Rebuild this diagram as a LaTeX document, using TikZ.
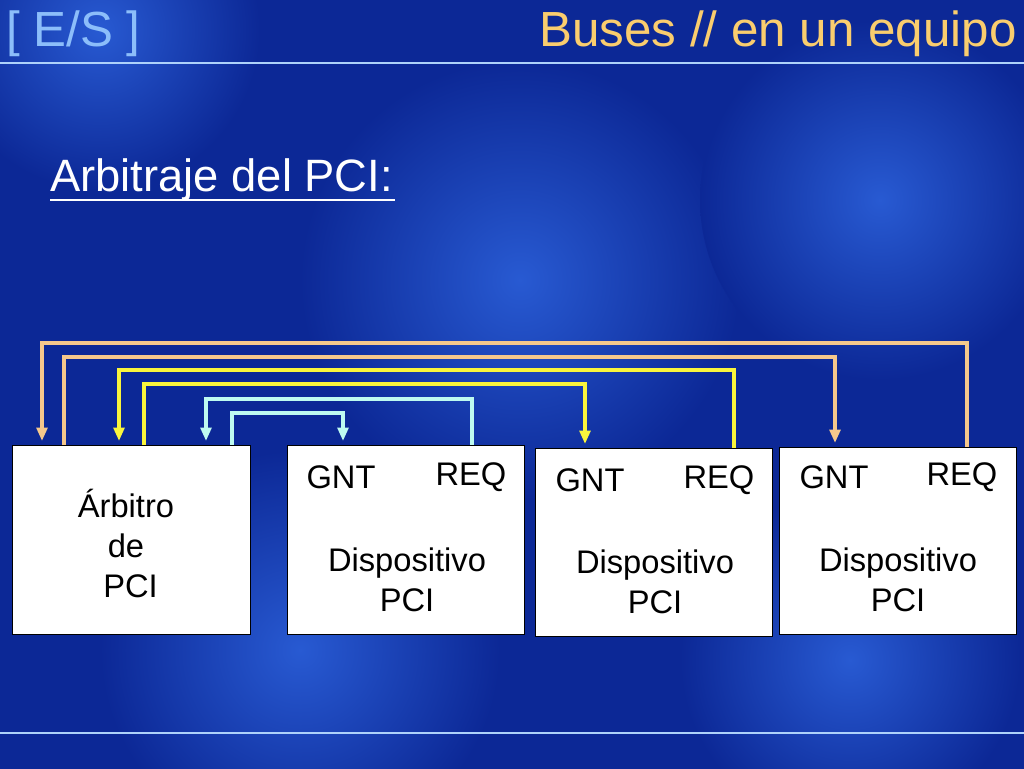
\documentclass[tikz,border=0pt]{standalone}
\usepackage{fontspec}
\setmainfont{Liberation Sans}
\usetikzlibrary{arrows.meta}
\definecolor{bgblue}{RGB}{12,40,150}
\definecolor{litblue}{RGB}{40,90,210}
\definecolor{ora}{RGB}{245,200,140}
\definecolor{yel}{RGB}{250,245,60}
\definecolor{cya}{RGB}{190,250,240}
\definecolor{titleor}{RGB}{250,205,110}
\definecolor{titlebl}{RGB}{140,190,250}
\begin{document}
\begin{tikzpicture}[x=0.75pt,y=-0.75pt,
  box/.style={draw=black,fill=white,line width=0.8pt,inner sep=0pt,anchor=north west},
  bus/.style={line width=2.6pt},
  tip/.style={-{Triangle[width=8pt,length=10pt]}},
  lbl/.style={font=\fontsize{24.5}{30}\selectfont,text=black,align=center}]
\useasboundingbox (0,0) rectangle (1024,768);
\fill[bgblue] (-2,-2) rectangle (1026,770);
\begin{scope}
\clip (0,0) rectangle (1024,768);
\shade[inner color=litblue,outer color=bgblue] (100,30) circle[radius=160];
\shade[inner color=litblue,outer color=bgblue] (520,280) circle[radius=220];
\shade[inner color=litblue,outer color=bgblue] (880,200) circle[radius=180];
\shade[inner color=litblue,outer color=bgblue] (300,650) circle[radius=200];
\shade[inner color=litblue,outer color=bgblue] (850,660) circle[radius=170];
\end{scope}
\draw[titlebl!70,line width=1pt] (0,63) -- (1024,63);
\draw[titlebl!70,line width=1pt] (0,733) -- (1024,733);
\node[anchor=west,text=titlebl,font=\fontsize{37}{44}\selectfont,inner sep=0] (t1) at (6,34) {[ E/S ]};
\node[anchor=east,text=titleor,font=\fontsize{37}{44}\selectfont,inner sep=0] (t2) at (1017,34) {Buses // en un equipo};
\node[anchor=west,text=white,font=\fontsize{34}{40}\selectfont,inner sep=0] (st) at (50,180) {Arbitraje del PCI:};
\draw[white,line width=1.5pt] (50,200) -- (395,200);

\node[box,minimum width=238*0.75,minimum height=189*0.75] (arb) at (12,445) {};
\node[box,minimum width=237*0.75,minimum height=189*0.75] (d1) at (287,445) {};
\node[box,minimum width=237*0.75,minimum height=188*0.75] (d2) at (535,448) {};
\node[box,minimum width=237*0.75,minimum height=187*0.75] (d3) at (779,447) {};

\node[lbl] at (126,543) {Árbitro\\de\\\ PCI};
\node[lbl] (g1) at (341,477) {GNT};
\node[lbl] (r1) at (471,477) {REQ};
\node[lbl] at (407,580) {Dispositivo\\PCI};
\node[lbl] (g2) at (590,480) {GNT};
\node[lbl] (r2) at (719,480) {REQ};
\node[lbl] at (655,582) {Dispositivo\\PCI};
\node[lbl] (g3) at (834,477) {GNT};
\node[lbl] (r3) at (962,477) {REQ};
\node[lbl] at (898,580) {Dispositivo\\PCI};

% buses
\draw[bus,ora,tip] (967,447) |- (42,343) -- (42,441);
\draw[bus,ora,tip] (64,445) |- (835,357) -- (835,443);
\draw[bus,yel,tip] (734,448) |- (119,370) -- (119,441);
\draw[bus,yel,tip] (144,445) |- (585,384) -- (585,444);
\draw[bus,cya,tip] (472,445) |- (206,399) -- (206,441);
\draw[bus,cya,tip] (232,445) |- (343,413) -- (343,441);
\end{tikzpicture}
\end{document}
